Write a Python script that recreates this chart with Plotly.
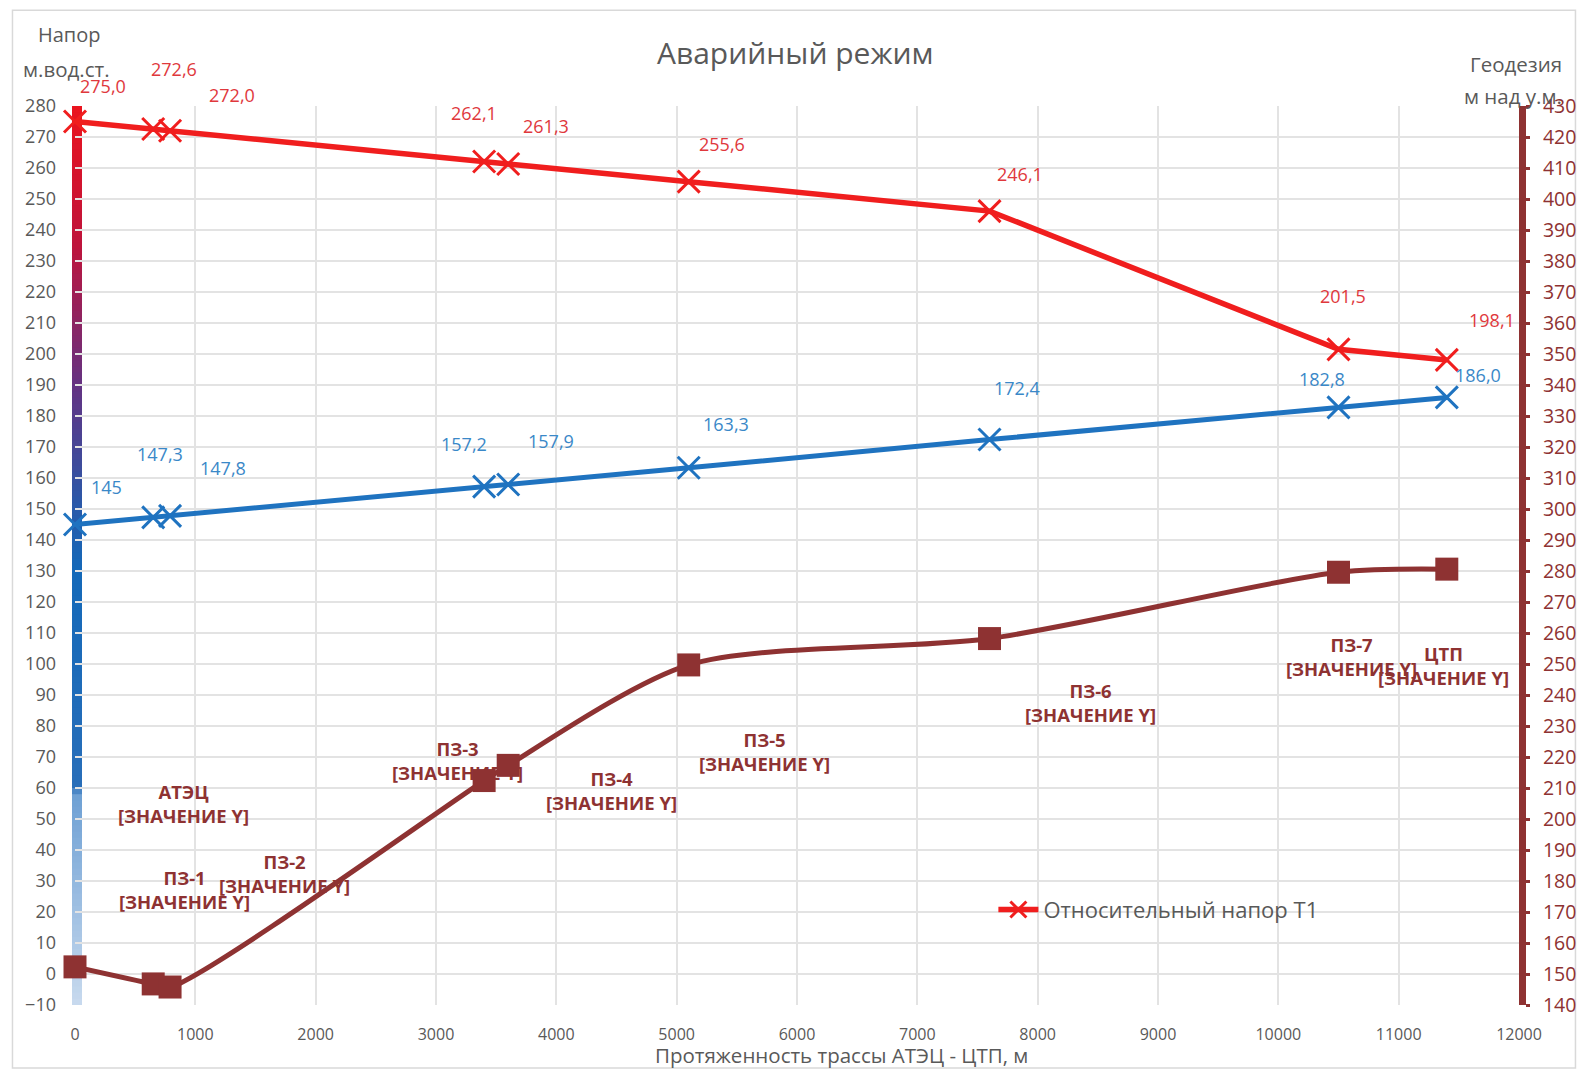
import plotly.graph_objects as go

# ---------------- data ----------------
distance_m = [0, 650, 790, 3400, 3600, 5100, 7600, 10500, 11400]
head_t1 = [275.0, 272.6, 272.0, 262.1, 261.3, 255.6, 246.1, 201.5, 198.1]
head_t2 = [145.0, 147.3, 147.8, 157.2, 157.9, 163.3, 172.4, 182.8, 186.0]
geodesy = [152.3, 146.8, 145.8, 212.4, 217.3, 249.7, 258.2, 279.6, 280.6]
point_names = ["АТЭЦ", "ПЗ-1", "ПЗ-2", "ПЗ-3", "ПЗ-4", "ПЗ-5", "ПЗ-6", "ПЗ-7", "ЦТП"]
t1_labels = ["275,0", "272,6", "272,0", "262,1", "261,3", "255,6", "246,1", "201,5", "198,1"]
t2_labels = ["145", "147,3", "147,8", "157,2", "157,9", "163,3", "172,4", "182,8", "186,0"]
left_ticks = list(range(-10, 281, 10))
right_ticks = list(range(140, 431, 10))
x_ticks = list(range(0, 12001, 1000))
x_ticktext = [str(v) for v in x_ticks]

# ---------------- styles ----------------
RED = "#F01E1E"
RED_LBL = "#E0383C"
BLUE = "#1F73C0"
BLUE_LBL = "#3A88C8"
BROWN = "#8E3232"
GRAY = "#595959"
FONT = "Open Sans"

# label offsets (pixels)
t1_off = [(28, 36), (21, 60), (62, 36), (-10, 48), (38, 38), (33, 38), (30, 37), (4, 53), (45, 40)]
t2_off = [(31, 38), (7, 63), (53, 48), (-20, 43), (43, 44), (37, 44), (27, 52), (-17, 28), (31, 22)]
geo_off = [(108, 163), (31, 94), (114, 114), (-27, 20), (103, -25), (76, -87), (101, -64), (13, -84), (-3, -96)]

fig = go.Figure()

fig.add_trace(go.Scatter(
    x=distance_m, y=geodesy, yaxis="y2", mode="lines+markers",
    line=dict(color=BROWN, width=5, shape="spline", smoothing=0.8),
    marker=dict(symbol="square", size=23, color=BROWN),
    showlegend=False, cliponaxis=False, name="Геодезия"))

fig.add_trace(go.Scatter(
    x=distance_m, y=head_t2, mode="lines+markers",
    line=dict(color=BLUE, width=5),
    marker=dict(symbol="x-thin", size=22, line=dict(color=BLUE, width=3)),
    showlegend=False, cliponaxis=False, name="Относительный напор Т2"))

fig.add_trace(go.Scatter(
    x=distance_m, y=head_t1, mode="lines+markers",
    line=dict(color=RED, width=5.5),
    marker=dict(symbol="x-thin", size=22, line=dict(color=RED, width=3)),
    showlegend=True, cliponaxis=False, name="Относительный напор Т1"))

annotations = []
for xv, yv, t, (dx, dy) in zip(distance_m, head_t1, t1_labels, t1_off):
    annotations.append(dict(x=xv, y=yv, xref="x", yref="y", text=t, showarrow=False,
                            xanchor="center", yanchor="middle",
                            xshift=dx, yshift=dy, font=dict(family=FONT, size=18, color=RED_LBL)))
for xv, yv, t, (dx, dy) in zip(distance_m, head_t2, t2_labels, t2_off):
    annotations.append(dict(x=xv, y=yv, xref="x", yref="y", text=t, showarrow=False,
                            xanchor="center", yanchor="middle",
                            xshift=dx, yshift=dy, font=dict(family=FONT, size=18, color=BLUE_LBL)))
for xv, yv, nm, (dx, dy) in zip(distance_m, geodesy, point_names, geo_off):
    annotations.append(dict(x=xv, y=yv, xref="x", yref="y2", text=f"<b>{nm}<br>[ЗНАЧЕНИЕ Y]</b>",
                            showarrow=False, xshift=dx, yshift=dy, align="center",
                            xanchor="center", yanchor="middle",
                            font=dict(family=FONT, size=18.5, color=BROWN)))

def paper_text(text, x, y, size, xanchor="center"):
    return dict(text=text, x=x, y=y, xref="paper", yref="paper", showarrow=False,
                xanchor=xanchor, yanchor="middle", font=dict(family=FONT, size=size, color=GRAY))

annotations += [
    paper_text("Аварийный режим", 0.4993, 1.0593, 30),
    paper_text("Напор", -0.0272, 1.079, 20, "left"),
    paper_text("м.вод.ст.", -0.0377, 1.0414, 20.5, "left"),
    paper_text("Геодезия", 0.998, 1.047, 20.5),
    paper_text("м над у.м.", 0.996, 1.011, 20.5),
    paper_text("Протяженность трассы АТЭЦ - ЦТП, м", 0.5307, -0.056, 20.5),
]

# gradient bar along the left axis (decoration, drawn in paper coords so it is not clipped)
stops = [(-10, (200, 218, 238)), (58, (110, 160, 212)), (60, (40, 110, 185)),
         (130, (20, 105, 185)), (150, (40, 90, 170)), (190, (100, 50, 130)),
         (235, (190, 20, 60)), (280, (235, 20, 30))]
shapes = []
def col_at(v):
    for (a, ca), (b, cb) in zip(stops[:-1], stops[1:]):
        if a <= v <= b:
            f = (v - a) / (b - a) if b > a else 0
            c = [round(ca[i] + (cb[i] - ca[i]) * f) for i in range(3)]
            return f"rgb({c[0]},{c[1]},{c[2]})"
    return "rgb(235,20,30)"
def ypaper(v):
    return (v + 10) / 290.0
v = -10.0
step = 2.0
while v < 280:
    shapes.append(dict(type="line", xref="paper", yref="paper", x0=0.0014, x1=0.0014,
                       y0=ypaper(v), y1=ypaper(min(v + step + 0.3, 280)),
                       line=dict(color=col_at(v + step / 2), width=10), layer="between"))
    v += step

shapes.append(dict(type="rect", xref="paper", yref="paper",
                   x0=-0.0433, x1=1.0391, y0=-0.0701, y1=1.1064,
                   line=dict(color="#D9D9D9", width=1.5), layer="below"))

fig.update_layout(
    width=1579, height=1070,
    margin=dict(l=74.5, r=60.4, t=105.7, b=65),
    paper_bgcolor="white", plot_bgcolor="white",
    font=dict(family=FONT, size=17, color=GRAY),
    showlegend=True,
    legend=dict(x=0.636, y=0.106, xanchor="left", yanchor="middle",
                bgcolor="rgba(0,0,0,0)", font=dict(family=FONT, size=22, color=GRAY),
                itemwidth=40),
    xaxis=dict(range=[0, 12000], tickvals=x_ticks, ticktext=x_ticktext, showgrid=True,
               gridcolor="#E3E3E3", gridwidth=1.5, zeroline=False, showline=False, ticks="",
               automargin=False, ticklabelstandoff=18,
               tickfont=dict(family=FONT, size=16, color=GRAY)),
    yaxis=dict(range=[-10, 280], tickvals=left_ticks, showgrid=True, gridcolor="#E3E3E3",
               gridwidth=1.5, zeroline=False, showline=False, ticks="",
               automargin=False, ticklabelstandoff=18,
               tickfont=dict(family=FONT, size=18, color=GRAY)),
    yaxis2=dict(range=[140, 430], tickvals=right_ticks, overlaying="y", side="right",
                showgrid=False, zeroline=False, showline=True, linecolor=BROWN, linewidth=7,
                ticks="outside", ticklen=4, tickwidth=3, tickcolor=BROWN,
                automargin=False, ticklabelstandoff=9,
                tickfont=dict(family=FONT, size=19.5, color=BROWN)),
    annotations=annotations,
    shapes=shapes,
)

fig.write_html("out.html",
               config={"displayModeBar": False},
               post_script="document.body.style.margin='0';document.body.style.overflow='hidden';")
